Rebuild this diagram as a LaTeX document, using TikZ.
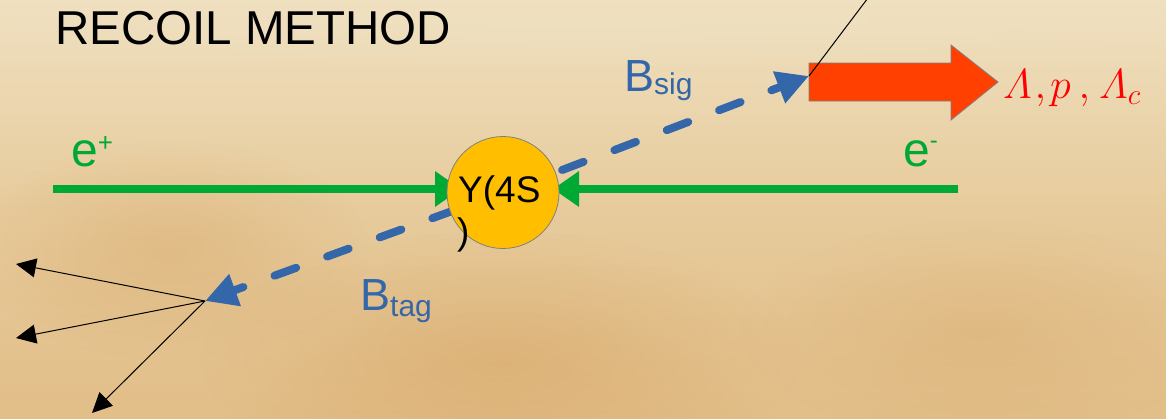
\RequirePackage{fix-cm}
\documentclass[tikz,border=0pt]{standalone}
\usepackage{amsmath}
\usepackage[no-math]{fontspec}
\newfontfamily\arialfont{Liberation Sans}
\usetikzlibrary{arrows.meta,fadings}

\definecolor{bgtop}{RGB}{239,224,192}
\definecolor{bgmid}{RGB}{231,203,156}
\definecolor{bgbot}{RGB}{226,190,136}
\definecolor{blotch}{RGB}{210,156,88}
\definecolor{eGreen}{RGB}{0,169,51}
\definecolor{bBlue}{RGB}{52,103,170}
\definecolor{ballYel}{RGB}{255,191,0}
\definecolor{decayRed}{RGB}{255,64,0}
\definecolor{rimGray}{RGB}{128,128,128}

% soft-edged patches for the aged paper
\tikzfading[name=softpatch, inner color=transparent!0, outer color=transparent!100]

\begin{document}
\begin{tikzpicture}[x=1pt,y=-1pt,
  lbl/.style={inner sep=0pt, anchor=base west},
  beam/.style={draw=eGreen, line width=8pt, -{Triangle[length=26pt,width=34pt]}},
  bpath/.style={draw=bBlue, line width=8pt, line cap=round,
                dash pattern=on 23pt off 33pt, -{Triangle[length=32pt,width=32pt]}},
  track/.style={draw=black, line width=1pt, -{Triangle[length=20pt,width=19pt]}},
  thin/.style={draw=black, line width=1pt},
  patch/.style={path fading=softpatch, fit fading=true}]

% page and parchment background
\useasboundingbox (0,0) rectangle (1166,418);
\clip (0,0) rectangle (1166,418);
\fill[top color=bgtop, bottom color=bgbot, middle color=bgmid] (0,0) rectangle (1166,418);
\fill[bgtop, patch, fill opacity=0.8] (583,20) ellipse (760 and 50);
\fill[blotch, patch, fill opacity=0.4] (500,360) ellipse (300 and 130);
\fill[blotch, patch, fill opacity=0.3] (170,250) ellipse (200 and 110);
\fill[blotch, patch, fill opacity=0.25] (980,330) ellipse (240 and 110);

% key points
\coordinate (sigtip) at (809,76);
\coordinate (tagtip) at (205,301);
\coordinate (ep) at (53,189);
\coordinate (epin) at (461,189);
\coordinate (em) at (958,189);
\coordinate (emin) at (553,189);
\coordinate (t1) at (16,264);
\coordinate (t2) at (16,338);
\coordinate (t3) at (92,413);
\coordinate (upend) at (874,-10);

% the resonance outline, named for the connectors
\path (503,192.5) node[circle, minimum size=112pt, inner sep=0pt] (ups) {};

% B mesons
\draw[bpath, dash phase=49pt] (ups) -- (sigtip);
\draw[bpath, dash phase=4pt] (ups) -- (tagtip);

% colliding beams
\draw[beam] (ep) -- (epin);
\draw[beam] (em) -- (emin);

% Upsilon(4S)
\node[circle, minimum size=112pt, inner sep=0pt, fill=ballYel, draw=rimGray,
      line width=0.8pt] (ball) at (503,192.5) {};
\node[lbl, font=\arialfont\fontsize{37}{42}\selectfont] (ballA) at (458,202) {Y(4S};
\node[lbl, font=\arialfont\fontsize{37}{42}\selectfont] (ballB) at (457,244) {)};

% labels
\node[lbl, font=\arialfont\fontsize{47.5}{57}\selectfont] (title) at (55,44) {RECOIL METHOD};
\node[lbl, text=eGreen, font=\arialfont\fontsize{48}{56}\selectfont] (eplbl) at (71,166)
  {e\raisebox{15pt}{\fontsize{26}{30}\selectfont +}};
\node[lbl, text=eGreen, font=\arialfont\fontsize{48}{56}\selectfont] (emlbl) at (903,166)
  {e\raisebox{18pt}{\fontsize{24}{28}\selectfont -}};
\node[lbl, text=bBlue, font=\arialfont\fontsize{45}{54}\selectfont] (bsig) at (624,91)
  {B\raisebox{-3pt}{\fontsize{30}{36}\selectfont sig}};
\node[lbl, text=bBlue, font=\arialfont\fontsize{45}{54}\selectfont] (btag) at (360,310)
  {B\raisebox{-6pt}{\fontsize{30}{36}\selectfont tag}};

% signal side: decay arrow and final states
\filldraw[fill=decayRed, draw=rimGray, line width=0.8pt]
  (809,63) -- (951,63) -- (951,45) -- (998,82) -- (951,120) -- (951,101) -- (809,101) -- cycle;
\node[lbl, text=red, font=\fontsize{42}{50}\selectfont] (final) at (1003,98)
  {$\varLambda\kern3pt{,}\kern4pt p\kern8pt{,}\kern9pt\varLambda_c$};
\draw[thin] (sigtip) -- (upend);

% tag side: reconstructed tracks
\draw[track] (tagtip) -- (t1);
\draw[track] (tagtip) -- (t2);
\draw[track] (tagtip) -- (t3);
\end{tikzpicture}
\end{document}
